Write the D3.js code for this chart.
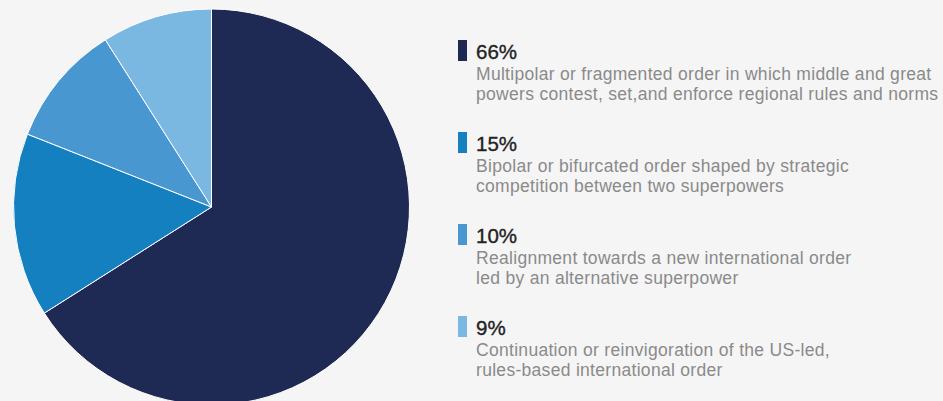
<!DOCTYPE html>
<html>
<head>
<meta charset="utf-8">
<script src="https://cdn.jsdelivr.net/npm/d3@7"></script>
<style>
  html, body { margin: 0; padding: 0; background: #f5f5f5; }
  svg { display: block; font-family: "Liberation Sans", Arial, sans-serif; }
</style>
</head>
<body>
<svg id="chart" width="943" height="401"></svg>
<script>
// shares of respondents, in clockwise order from 12 o'clock
const shares = [66, 15, 10, 9];
const labels = ["66%", "15%", "10%", "9%"];
const descriptions = [
  ["Multipolar or fragmented order in which middle and great", "powers contest, set,and enforce regional rules and norms"],
  ["Bipolar or bifurcated order shaped by strategic", "competition between two superpowers"],
  ["Realignment towards a new international order", "led by an alternative superpower"],
  ["Continuation or reinvigoration of the US-led,", "rules-based international order"]
];
const colors = ["#1f2a54", "#1580c0", "#4897d0", "#7ab8e2"];

const svg = d3.select("#chart");
const cx = 211.5, cy = 207, r = 198;

const pie = d3.pie().sort(null).value(d => d);
const arc = d3.arc().innerRadius(0).outerRadius(r);

svg.append("g")
    .attr("transform", `translate(${cx},${cy})`)
  .selectAll("path")
  .data(pie(shares))
  .join("path")
    .attr("d", arc)
    .attr("fill", (d, i) => colors[i])
    .attr("stroke", "#ffffff")
    .attr("stroke-width", 1)
    .attr("stroke-linejoin", "round");

// legend
const y = d3.scaleBand().domain(d3.range(shares.length)).range([40, 408]);

const item = svg.append("g").selectAll("g")
  .data(shares)
  .join("g")
    .attr("transform", (d, i) => `translate(458,${y(i)})`);

item.append("rect")
    .attr("width", 9)
    .attr("height", 21)
    .attr("fill", (d, i) => colors[i]);

item.append("text")
    .attr("x", 18)
    .attr("y", 18.5)
    .attr("font-size", 20.5)
    .attr("fill", "#222222")
    .attr("stroke", "#222222")
    .attr("stroke-width", 0.35)
    .text((d, i) => labels[i]);

item.each(function(d, i) {
  d3.select(this).selectAll("text.desc")
    .data(descriptions[i])
    .join("text")
      .attr("class", "desc")
      .attr("x", 18)
      .attr("y", (t, j) => 39.5 + j * 20.5)
      .attr("font-size", 17.5)
      .attr("letter-spacing", 0.3)
      .attr("fill", "#8a8a8a")
      .text(t => t);
});
</script>
</body>
</html>
